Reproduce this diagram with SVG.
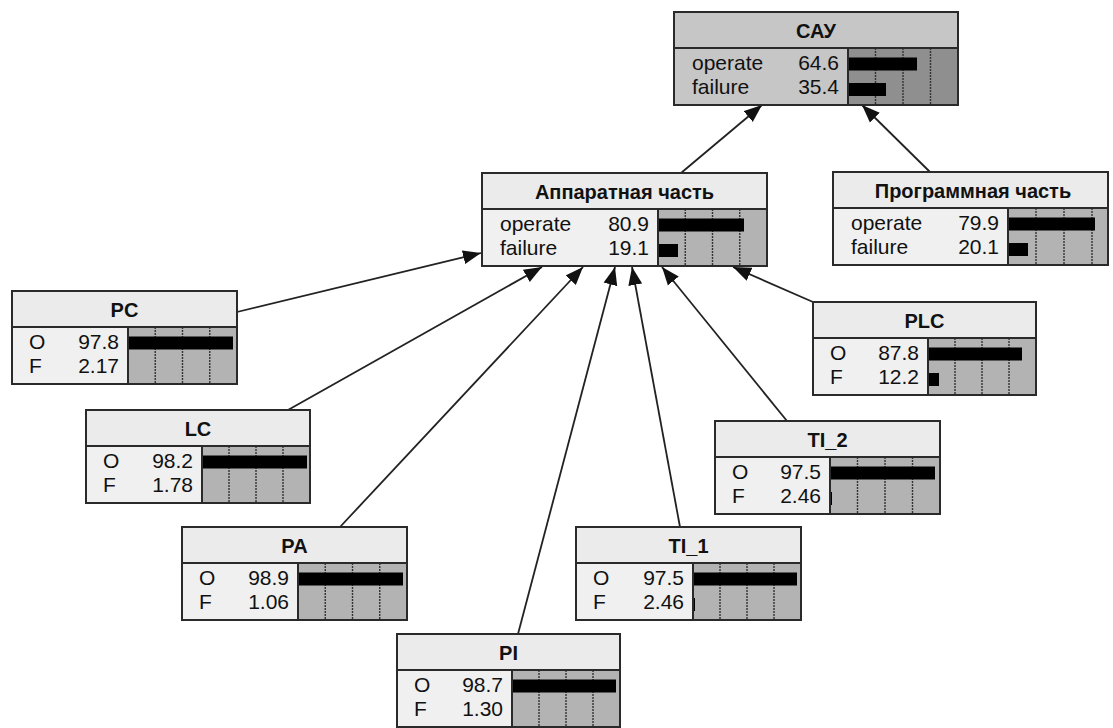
<svg xmlns="http://www.w3.org/2000/svg" width="1113" height="728" viewBox="0 0 1113 728">
<defs>
<marker id="ah" markerUnits="userSpaceOnUse" markerWidth="19" markerHeight="15" refX="18" refY="7.5" orient="auto">
<path d="M0,0.5 L18,7.5 L0,14.5 Z" fill="#111"/>
</marker>
<style>
.tt{fill:#ebebeb}
.bd{fill:#f0f0f0}
.bg{fill:#b3b3b3}
.tts{fill:#c6c6c6}
.bgs{fill:#8f8f8f}
.ol{fill:none;stroke:#2a2a2a;stroke-width:2}
.ln{stroke:#2a2a2a;stroke-width:2}
.tk{stroke:#333;stroke-width:1.4;stroke-dasharray:2 1}
.bar{fill:#000}
.t{font-family:"Liberation Sans",Arial,sans-serif;font-weight:bold;font-size:20px;text-anchor:middle;fill:#111}
.r{font-family:"Liberation Sans",Arial,sans-serif;font-size:21px;fill:#111}
.v{font-family:"Liberation Sans",Arial,sans-serif;font-size:21px;fill:#111;text-anchor:end}
.c{fill:none;stroke:#222;stroke-width:1.8;marker-end:url(#ah)}
</style>
</defs>
<rect x="0" y="0" width="1113" height="728" fill="#fff"/>

<g id="connectors">
<line class="c" x1="681" y1="173" x2="762" y2="105"/>
<line class="c" x1="930" y1="172" x2="862" y2="105"/>
<line class="c" x1="237" y1="312" x2="481" y2="253"/>
<line class="c" x1="288" y1="410" x2="542" y2="267"/>
<line class="c" x1="340" y1="527" x2="583" y2="267"/>
<line class="c" x1="518" y1="634" x2="615" y2="267"/>
<line class="c" x1="680" y1="527" x2="632" y2="267"/>
<line class="c" x1="787" y1="421" x2="662" y2="267"/>
<line class="c" x1="813" y1="302" x2="733" y2="267"/>
</g>

<g id="node-cay">
<rect class="tts" x="674" y="12" width="284" height="36"/>
<rect class="tts" x="674" y="48" width="174" height="57"/>
<rect class="bgs" x="848" y="48" width="110" height="57"/>
<line class="tk" x1="875.5" y1="48" x2="875.5" y2="105"/>
<line class="tk" x1="903" y1="48" x2="903" y2="105"/>
<line class="tk" x1="930.5" y1="48" x2="930.5" y2="105"/>
<rect class="bar" x="848" y="57.5" width="69" height="13"/>
<rect class="bar" x="848" y="83" width="38" height="13"/>
<rect class="ol" x="674" y="12" width="284" height="93"/>
<line class="ln" x1="674" y1="48" x2="958" y2="48"/>
<line class="ln" x1="848" y1="48" x2="848" y2="105"/>
<text class="t" x="816" y="38">САУ</text>
<text class="r" x="692" y="70">operate</text>
<text class="v" x="839" y="70">64.6</text>
<text class="r" x="692" y="94">failure</text>
<text class="v" x="839" y="94">35.4</text>
</g>

<g id="node-hw">
<rect class="tt" x="482" y="173" width="285" height="36"/>
<rect class="bd" x="482" y="209" width="176" height="57"/>
<rect class="bg" x="658" y="209" width="109" height="57"/>
<line class="tk" x1="685.25" y1="209" x2="685.25" y2="266"/>
<line class="tk" x1="712.5" y1="209" x2="712.5" y2="266"/>
<line class="tk" x1="739.75" y1="209" x2="739.75" y2="266"/>
<rect class="bar" x="658" y="218.5" width="86" height="13"/>
<rect class="bar" x="658" y="244" width="20" height="13"/>
<rect class="ol" x="482" y="173" width="285" height="93"/>
<line class="ln" x1="482" y1="209" x2="767" y2="209"/>
<line class="ln" x1="658" y1="209" x2="658" y2="266"/>
<text class="t" x="624.5" y="199">Аппаратная часть</text>
<text class="r" x="500" y="231">operate</text>
<text class="v" x="649" y="231">80.9</text>
<text class="r" x="500" y="255">failure</text>
<text class="v" x="649" y="255">19.1</text>
</g>

<g id="node-sw">
<rect class="tt" x="833" y="172" width="275" height="36"/>
<rect class="bd" x="833" y="208" width="175" height="57"/>
<rect class="bg" x="1008" y="208" width="100" height="57"/>
<line class="tk" x1="1036" y1="208" x2="1036" y2="265"/>
<line class="tk" x1="1064" y1="208" x2="1064" y2="265"/>
<line class="tk" x1="1092" y1="208" x2="1092" y2="265"/>
<rect class="bar" x="1008" y="217.5" width="87" height="13"/>
<rect class="bar" x="1008" y="243" width="20" height="13"/>
<rect class="ol" x="833" y="172" width="275" height="93"/>
<line class="ln" x1="833" y1="208" x2="1108" y2="208"/>
<line class="ln" x1="1008" y1="208" x2="1008" y2="265"/>
<text class="t" x="973" y="198">Программная часть</text>
<text class="r" x="851" y="230">operate</text>
<text class="v" x="999" y="230">79.9</text>
<text class="r" x="851" y="254">failure</text>
<text class="v" x="999" y="254">20.1</text>
</g>

<g id="node-pc">
<rect class="tt" x="12" y="291" width="225" height="36"/>
<rect class="bd" x="12" y="327" width="116" height="57"/>
<rect class="bg" x="128" y="327" width="109" height="57"/>
<line class="tk" x1="155.25" y1="327" x2="155.25" y2="384"/>
<line class="tk" x1="182.5" y1="327" x2="182.5" y2="384"/>
<line class="tk" x1="209.75" y1="327" x2="209.75" y2="384"/>
<rect class="bar" x="128" y="336.5" width="105" height="13"/>
<rect class="ol" x="12" y="291" width="225" height="93"/>
<line class="ln" x1="12" y1="327" x2="237" y2="327"/>
<line class="ln" x1="128" y1="327" x2="128" y2="384"/>
<text class="t" x="124.5" y="317">PC</text>
<text class="r" x="29" y="349">O</text>
<text class="v" x="119" y="349">97.8</text>
<text class="r" x="29" y="373">F</text>
<text class="v" x="119" y="373">2.17</text>
</g>

<g id="node-plc">
<rect class="tt" x="813" y="302" width="223" height="36"/>
<rect class="bd" x="813" y="338" width="115" height="57"/>
<rect class="bg" x="928" y="338" width="108" height="57"/>
<line class="tk" x1="955" y1="338" x2="955" y2="395"/>
<line class="tk" x1="982" y1="338" x2="982" y2="395"/>
<line class="tk" x1="1009" y1="338" x2="1009" y2="395"/>
<rect class="bar" x="928" y="347.5" width="94" height="13"/>
<rect class="bar" x="928" y="373" width="11" height="13"/>
<rect class="ol" x="813" y="302" width="223" height="93"/>
<line class="ln" x1="813" y1="338" x2="1036" y2="338"/>
<line class="ln" x1="928" y1="338" x2="928" y2="395"/>
<text class="t" x="924.5" y="328">PLC</text>
<text class="r" x="830" y="360">O</text>
<text class="v" x="919" y="360">87.8</text>
<text class="r" x="830" y="384">F</text>
<text class="v" x="919" y="384">12.2</text>
</g>

<g id="node-lc">
<rect class="tt" x="86" y="410" width="224" height="36"/>
<rect class="bd" x="86" y="446" width="116" height="57"/>
<rect class="bg" x="202" y="446" width="108" height="57"/>
<line class="tk" x1="229" y1="446" x2="229" y2="503"/>
<line class="tk" x1="256" y1="446" x2="256" y2="503"/>
<line class="tk" x1="283" y1="446" x2="283" y2="503"/>
<rect class="bar" x="202" y="455.5" width="105" height="13"/>
<rect class="ol" x="86" y="410" width="224" height="93"/>
<line class="ln" x1="86" y1="446" x2="310" y2="446"/>
<line class="ln" x1="202" y1="446" x2="202" y2="503"/>
<text class="t" x="198" y="436">LC</text>
<text class="r" x="103" y="468">O</text>
<text class="v" x="193" y="468">98.2</text>
<text class="r" x="103" y="492">F</text>
<text class="v" x="193" y="492">1.78</text>
</g>

<g id="node-ti2">
<rect class="tt" x="715" y="421" width="225" height="36"/>
<rect class="bd" x="715" y="457" width="115" height="57"/>
<rect class="bg" x="830" y="457" width="110" height="57"/>
<line class="tk" x1="857.5" y1="457" x2="857.5" y2="514"/>
<line class="tk" x1="885" y1="457" x2="885" y2="514"/>
<line class="tk" x1="912.5" y1="457" x2="912.5" y2="514"/>
<rect class="bar" x="830" y="466.5" width="105" height="13"/>
<rect class="bar" x="830" y="492" width="2" height="13"/>
<rect class="ol" x="715" y="421" width="225" height="93"/>
<line class="ln" x1="715" y1="457" x2="940" y2="457"/>
<line class="ln" x1="830" y1="457" x2="830" y2="514"/>
<text class="t" x="827.5" y="447">TI_2</text>
<text class="r" x="732" y="479">O</text>
<text class="v" x="821" y="479">97.5</text>
<text class="r" x="732" y="503">F</text>
<text class="v" x="821" y="503">2.46</text>
</g>

<g id="node-pa">
<rect class="tt" x="182" y="527" width="225" height="36"/>
<rect class="bd" x="182" y="563" width="116" height="57"/>
<rect class="bg" x="298" y="563" width="109" height="57"/>
<line class="tk" x1="325.25" y1="563" x2="325.25" y2="620"/>
<line class="tk" x1="352.5" y1="563" x2="352.5" y2="620"/>
<line class="tk" x1="379.75" y1="563" x2="379.75" y2="620"/>
<rect class="bar" x="298" y="572.5" width="105" height="13"/>
<rect class="ol" x="182" y="527" width="225" height="93"/>
<line class="ln" x1="182" y1="563" x2="407" y2="563"/>
<line class="ln" x1="298" y1="563" x2="298" y2="620"/>
<text class="t" x="294.5" y="553">PA</text>
<text class="r" x="199" y="585">O</text>
<text class="v" x="289" y="585">98.9</text>
<text class="r" x="199" y="609">F</text>
<text class="v" x="289" y="609">1.06</text>
</g>

<g id="node-ti1">
<rect class="tt" x="576" y="527" width="225" height="36"/>
<rect class="bd" x="576" y="563" width="117" height="57"/>
<rect class="bg" x="693" y="563" width="108" height="57"/>
<line class="tk" x1="720" y1="563" x2="720" y2="620"/>
<line class="tk" x1="747" y1="563" x2="747" y2="620"/>
<line class="tk" x1="774" y1="563" x2="774" y2="620"/>
<rect class="bar" x="693" y="572.5" width="104" height="13"/>
<rect class="bar" x="693" y="598" width="2" height="13"/>
<rect class="ol" x="576" y="527" width="225" height="93"/>
<line class="ln" x1="576" y1="563" x2="801" y2="563"/>
<line class="ln" x1="693" y1="563" x2="693" y2="620"/>
<text class="t" x="688.5" y="553">TI_1</text>
<text class="r" x="593" y="585">O</text>
<text class="v" x="684" y="585">97.5</text>
<text class="r" x="593" y="609">F</text>
<text class="v" x="684" y="609">2.46</text>
</g>

<g id="node-pi">
<rect class="tt" x="397" y="634" width="223" height="36"/>
<rect class="bd" x="397" y="670" width="115" height="57"/>
<rect class="bg" x="512" y="670" width="108" height="57"/>
<line class="tk" x1="539" y1="670" x2="539" y2="727"/>
<line class="tk" x1="566" y1="670" x2="566" y2="727"/>
<line class="tk" x1="593" y1="670" x2="593" y2="727"/>
<rect class="bar" x="512" y="679.5" width="104" height="13"/>
<rect class="ol" x="397" y="634" width="223" height="93"/>
<line class="ln" x1="397" y1="670" x2="620" y2="670"/>
<line class="ln" x1="512" y1="670" x2="512" y2="727"/>
<text class="t" x="508.5" y="660">PI</text>
<text class="r" x="414" y="692">O</text>
<text class="v" x="503" y="692">98.7</text>
<text class="r" x="414" y="716">F</text>
<text class="v" x="503" y="716">1.30</text>
</g>
</svg>
